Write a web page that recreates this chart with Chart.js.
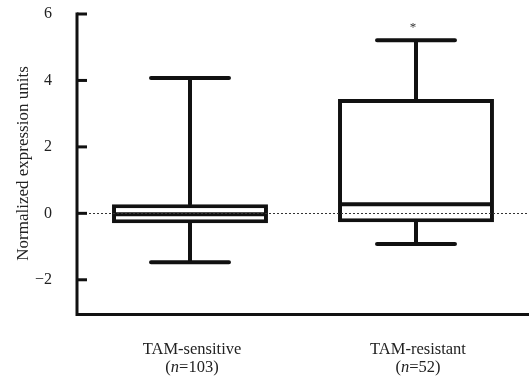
<html lang="en">
<head>
  <meta charset="UTF-8">
  <title>Normalized expression</title>
  <script src="https://cdn.jsdelivr.net/npm/chart.js"></script>
  <style>
    body { margin: 0; background: #fff; }
    #wrap { width: 529px; height: 382px; }
  </style>
</head>
<body>
  <div id="wrap"><canvas id="box"></canvas></div>

  <script>
    const categories = ['TAM-sensitive', 'TAM-resistant'];
    const sampleSizes = ['103', '52'];
    const whiskerLow = [-1.47, -0.92];
    const q1 = [-0.30, -0.27];
    const medians = [-0.03, 0.27];
    const q3 = [0.27, 3.44];
    const whiskerHigh = [4.07, 5.21];
    const marks = ['', '*'];
    const yTicks = [-2, 0, 2, 4, 6];

    const serif = '"Liberation Serif", "DejaVu Serif", serif';

    // whiskers, medians, zero line, axes and labels drawn around the bars
    const boxExtras = {
      id: 'boxExtras',
      beforeDatasetsDraw(chart) {
        const ctx = chart.ctx;
        const x = chart.scales.x, y = chart.scales.y;
        const bars = chart.getDatasetMeta(0).data;
        ctx.save();
        ctx.strokeStyle = '#111';
        ctx.lineWidth = 4;
        ctx.lineCap = 'round';
        categories.forEach((c, i) => {
          const cx = x.getPixelForValue(i);
          const half = bars[i].width / 4;
          ctx.beginPath();
          ctx.moveTo(cx, y.getPixelForValue(whiskerHigh[i]));
          ctx.lineTo(cx, y.getPixelForValue(q3[i]));
          ctx.moveTo(cx, y.getPixelForValue(whiskerLow[i]));
          ctx.lineTo(cx, y.getPixelForValue(q1[i]));
          ctx.moveTo(cx - half, y.getPixelForValue(whiskerHigh[i]));
          ctx.lineTo(cx + half, y.getPixelForValue(whiskerHigh[i]));
          ctx.moveTo(cx - half, y.getPixelForValue(whiskerLow[i]));
          ctx.lineTo(cx + half, y.getPixelForValue(whiskerLow[i]));
          ctx.stroke();
        });
        ctx.restore();
      },
      afterDatasetsDraw(chart) {
        const ctx = chart.ctx;
        const x = chart.scales.x, y = chart.scales.y;
        const area = chart.chartArea;
        const bars = chart.getDatasetMeta(0).data;
        ctx.save();
        // medians
        ctx.strokeStyle = '#111';
        ctx.lineWidth = 4;
        categories.forEach((c, i) => {
          const b = bars[i];
          const my = y.getPixelForValue(medians[i]);
          ctx.beginPath();
          ctx.moveTo(b.x - b.width / 2 + 2, my);
          ctx.lineTo(b.x + b.width / 2 - 2, my);
          ctx.stroke();
        });
        // dotted zero line
        ctx.lineWidth = 1;
        ctx.setLineDash([2, 2]);
        ctx.strokeStyle = '#333';
        const zy = Math.round(y.getPixelForValue(0)) + 0.5;
        ctx.beginPath();
        ctx.moveTo(area.left, zy);
        ctx.lineTo(area.right, zy);
        ctx.stroke();
        ctx.setLineDash([]);
        // axes
        ctx.strokeStyle = '#111';
        ctx.lineWidth = 3;
        ctx.lineCap = 'butt';
        const top = y.getPixelForValue(6);
        ctx.beginPath();
        ctx.moveTo(area.left, top - 1.5);
        ctx.lineTo(area.left, area.bottom + 1.5);
        ctx.lineTo(area.right, area.bottom + 1.5);
        ctx.stroke();
        // inward ticks
        yTicks.forEach(v => {
          const ty = y.getPixelForValue(v);
          ctx.beginPath();
          ctx.moveTo(area.left, ty);
          ctx.lineTo(area.left + 10, ty);
          ctx.stroke();
        });
        // significance marks
        ctx.fillStyle = '#333';
        ctx.font = '13px ' + serif;
        ctx.textAlign = 'center';
        ctx.textBaseline = 'middle';
        marks.forEach((m, i) => {
          if (m) ctx.fillText(m, x.getPixelForValue(i) - 3, y.getPixelForValue(5.6));
        });
        ctx.restore();
      },
      afterDraw(chart) {
        const ctx = chart.ctx;
        const x = chart.scales.x;
        const fs = '16.5px ';
        ctx.save();
        ctx.fillStyle = '#222';
        ctx.textBaseline = 'alphabetic';
        categories.forEach((c, i) => {
          const cx = x.getPixelForValue(i) + 2;
          ctx.font = fs + serif;
          ctx.textAlign = 'center';
          ctx.fillText(c, cx, x.top + 41);
          // second line with italic n
          const parts = [['(', fs], ['n', 'italic ' + fs], ['=' + sampleSizes[i] + ')', fs]];
          let w = 0;
          parts.forEach(p => { ctx.font = p[1] + serif; w += ctx.measureText(p[0]).width; });
          let px = cx - w / 2;
          ctx.textAlign = 'left';
          parts.forEach(p => {
            ctx.font = p[1] + serif;
            ctx.fillText(p[0], px, x.top + 59);
            px += ctx.measureText(p[0]).width;
          });
        });
        ctx.restore();
      }
    };

    new Chart(document.getElementById('box'), {
      type: 'bar',
      data: {
        labels: categories,
        datasets: [{
          data: categories.map((c, i) => [q1[i], q3[i]]),
          backgroundColor: '#fff',
          borderColor: '#111',
          borderWidth: 4,
          borderSkipped: false,
          barPercentage: 0.69,
          categoryPercentage: 1
        }]
      },
      options: {
        responsive: true,
        maintainAspectRatio: false,
        animation: false,
        layout: { padding: { top: 14, right: 0, left: 0, bottom: 0 } },
        plugins: { legend: { display: false }, tooltip: { enabled: false } },
        scales: {
          x: {
            type: 'category',
            offset: true,
            grid: { display: false, drawTicks: false },
            border: { display: false },
            ticks: { color: 'rgba(0,0,0,0)', font: { family: serif, size: 14 } },
            afterFit: s => { s.height = 69; s.paddingLeft = 0; s.paddingRight = 0; }
          },
          y: {
            min: -3,
            max: 6,
            grid: { display: false, drawTicks: false },
            border: { display: false },
            afterBuildTicks: s => { s.ticks = yTicks.map(v => ({ value: v })); },
            ticks: {
              color: '#222',
              padding: 25,
              font: { family: serif, size: 16 },
              callback: v => (v < 0 ? '\u2212' + Math.abs(v) : String(v))
            },
            title: {
              display: true,
              text: 'Normalized expression units',
              color: '#222',
              font: { family: serif, size: 17 },
              padding: { top: 13, bottom: 0 }
            },
            afterFit: s => { s.width = 77; s.paddingTop = 0; s.paddingBottom = 0; }
          }
        }
      },
      plugins: [boxExtras]
    });
  </script>
</body>
</html>
